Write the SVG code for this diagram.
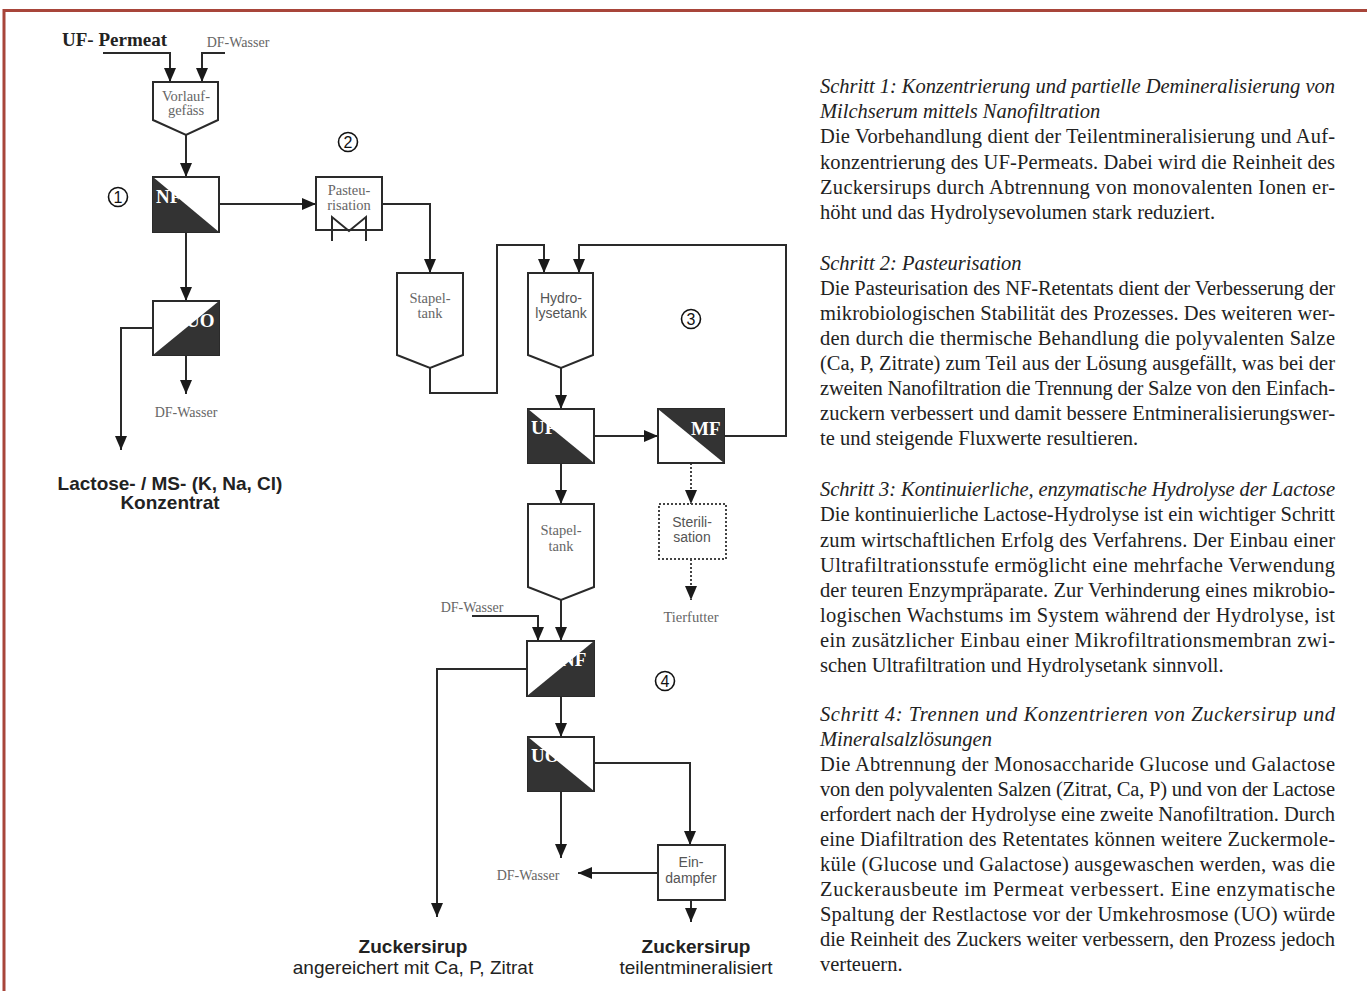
<svg xmlns="http://www.w3.org/2000/svg" width="1367" height="991" viewBox="0 0 1367 991">
<defs>
<marker id="ah" markerWidth="14" markerHeight="12" refX="14" refY="6" orient="auto" markerUnits="userSpaceOnUse"><path d="M0,0 L14,6 L0,12 z" fill="#1a1a1a"/></marker>
<style>
.ln{fill:none;stroke:#2a2a2a;stroke-width:2}
.dot{fill:none;stroke:#444;stroke-width:2;stroke-dasharray:2,2}
.box{fill:#fff;stroke:#2a2a2a;stroke-width:2}
.dk{fill:#333}
.mt{font-family:"Liberation Serif",serif;font-weight:bold;font-size:19px;fill:#fff}
.sl{font-family:"Liberation Serif",serif;font-size:14.5px;fill:#666;text-anchor:middle}
.ss{font-family:"Liberation Sans",Arial,sans-serif;font-size:14px;fill:#555;text-anchor:middle}
.big{font-family:"Liberation Sans",Arial,sans-serif;font-weight:bold;font-size:19px;fill:#222;text-anchor:middle}
.sub{font-family:"Liberation Sans",Arial,sans-serif;font-size:19px;fill:#222;text-anchor:middle}
.num{font-family:"Liberation Sans",Arial,sans-serif;font-size:16px;fill:#111;text-anchor:middle}
.cir{fill:#fff;stroke:#111;stroke-width:1.6}
.tx{font-family:"Liberation Serif",serif;font-size:20.5px;fill:#222}
.ti{font-family:"Liberation Serif",serif;font-size:20.5px;font-style:italic;fill:#222}
</style>
</defs>
<rect x="4" y="10.5" width="1400" height="1000" fill="none" stroke="#a8453a" stroke-width="3"/>

<g id="connectors">
<path class="ln" d="M103,53 H170 V82" marker-end="url(#ah)"/>
<path class="ln" d="M225,53 H202 V82" marker-end="url(#ah)"/>
<path class="ln" d="M186,135 V177" marker-end="url(#ah)"/>
<path class="ln" d="M219,204 H316" marker-end="url(#ah)"/>
<path class="ln" d="M382,204 H430 V273" marker-end="url(#ah)"/>
<path class="ln" d="M430,368 V393 H497 V245 H544 V273" marker-end="url(#ah)"/>
<path class="ln" d="M724,436 H786 V245 H579 V273" marker-end="url(#ah)"/>
<path class="ln" d="M561,368 V409" marker-end="url(#ah)"/>
<path class="ln" d="M594,436 H658" marker-end="url(#ah)"/>
<path class="dot" d="M691,463 V504" marker-end="url(#ah)"/>
<path class="dot" d="M691,559 V600" marker-end="url(#ah)"/>
<path class="ln" d="M561,463 V504" marker-end="url(#ah)"/>
<path class="ln" d="M561,600 V641" marker-end="url(#ah)"/>
<path class="ln" d="M472,616 H538 V641" marker-end="url(#ah)"/>
<path class="ln" d="M527,669 H437 V917" marker-end="url(#ah)"/>
<path class="ln" d="M561,696 V737" marker-end="url(#ah)"/>
<path class="ln" d="M594,763 H690 V845" marker-end="url(#ah)"/>
<path class="ln" d="M561,791 V858" marker-end="url(#ah)"/>
<path class="ln" d="M658,873 H578" marker-end="url(#ah)"/>
<path class="ln" d="M691,900 V922" marker-end="url(#ah)"/>
<path class="ln" d="M186,232 V301" marker-end="url(#ah)"/>
<path class="ln" d="M153,328 H121 V450" marker-end="url(#ah)"/>
<path class="ln" d="M186,355 V394" marker-end="url(#ah)"/>
</g>

<g id="inputs">
<text x="62" y="46" style="font-family:'Liberation Serif',serif;font-weight:bold;font-size:19px;fill:#222">UF- Permeat</text>
<text x="238" y="47" class="sl" style="font-size:14px">DF-Wasser</text>
</g>

<g id="vorlauf">
<path class="box" d="M153,82 H218 V120 L186,135 L153,120 z"/>
<text x="186" y="101" class="sl">Vorlauf-</text>
<text x="186" y="115" class="sl">gefäss</text>
</g>

<g id="step1">
<circle class="cir" cx="118" cy="197" r="9.5"/>
<text x="118" y="203" class="num">1</text>
</g>

<g id="nf1">
<rect class="box" x="153" y="177" width="66" height="55"/>
<path class="dk" d="M153,177 L219,232 H153 z"/>
<text x="156" y="203" class="mt">NF</text>
</g>

<g id="uo1">
<rect class="box" x="153" y="301" width="66" height="54"/>
<path class="dk" d="M219,301 V355 H153 z"/>
<text x="186" y="327" class="mt">UO</text>
<text x="186" y="417" class="sl" style="font-size:14px">DF-Wasser</text>
</g>

<g id="lactose">
<text x="170" y="490" class="big">Lactose- / MS- (K, Na, Cl)</text>
<text x="170" y="509" class="big">Konzentrat</text>
</g>

<g id="step2">
<circle class="cir" cx="348" cy="142" r="9.5"/>
<text x="348" y="148" class="num">2</text>
</g>

<g id="pasteurisation">
<rect class="box" x="316" y="177" width="66" height="53"/>
<text x="349" y="195" class="sl">Pasteu-</text>
<text x="349" y="210" class="sl">risation</text>
<path class="ln" d="M332,241 V217 L349,231 L366,217 V241"/>
</g>

<g id="stapeltank1">
<path class="box" d="M397,273 H463 V355 L430,368 L397,355 z"/>
<text x="430" y="303" class="sl">Stapel-</text>
<text x="430" y="318" class="sl">tank</text>
</g>

<g id="hydrolysetank">
<path class="box" d="M528,273 H593 V355 L561,368 L528,355 z"/>
<text x="561" y="303" class="ss">Hydro-</text>
<text x="561" y="318" class="ss">lysetank</text>
</g>

<g id="step3">
<circle class="cir" cx="691" cy="319" r="9.5"/>
<text x="691" y="325" class="num">3</text>
</g>

<g id="uf">
<rect class="box" x="528" y="409" width="66" height="54"/>
<path class="dk" d="M528,409 L594,463 H528 z"/>
<text x="531" y="434" class="mt">UF</text>
</g>

<g id="mf">
<rect class="box" x="658" y="409" width="66" height="54"/>
<path class="dk" d="M658,409 H724 V463 z"/>
<text x="691" y="435" class="mt">MF</text>
</g>

<g id="sterilisation">
<rect x="659" y="504" width="67" height="55" fill="#fff" stroke="#444" stroke-width="2" stroke-dasharray="2,2"/>
<text x="692" y="527" class="ss">Sterili-</text>
<text x="692" y="542" class="ss">sation</text>
<text x="691" y="622" class="sl">Tierfutter</text>
</g>

<g id="stapeltank2">
<path class="box" d="M528,504 H594 V587 L561,600 L528,587 z"/>
<text x="561" y="535" class="sl">Stapel-</text>
<text x="561" y="551" class="sl">tank</text>
</g>

<g id="nf2">
<text x="472" y="612" class="sl" style="font-size:14px">DF-Wasser</text>
<rect class="box" x="527" y="641" width="67" height="55"/>
<path class="dk" d="M594,641 V696 H527 z"/>
<text x="561" y="666" class="mt">NF</text>
</g>

<g id="step4">
<circle class="cir" cx="665" cy="681" r="9.5"/>
<text x="665" y="687" class="num">4</text>
</g>

<g id="uo2">
<rect class="box" x="528" y="737" width="66" height="54"/>
<path class="dk" d="M528,737 L594,791 H528 z"/>
<text x="531" y="762" class="mt">UO</text>
<text x="528" y="880" class="sl" style="font-size:14px">DF-Wasser</text>
</g>

<g id="eindampfer">
<rect class="box" x="658" y="845" width="67" height="55"/>
<text x="691" y="867" class="ss">Ein-</text>
<text x="691" y="883" class="ss">dampfer</text>
</g>

<g id="outputs">
<text x="413" y="953" class="big">Zuckersirup</text>
<text x="413" y="974" class="sub">angereichert mit Ca, P, Zitrat</text>
<text x="696" y="953" class="big">Zuckersirup</text>
<text x="696" y="974" class="sub">teilentmineralisiert</text>
</g>

<g id="description">
<text x="820" y="93" class="ti" textLength="515" lengthAdjust="spacing">Schritt 1: Konzentrierung und partielle Demineralisierung von</text>
<text x="820" y="118" class="ti">Milchserum mittels Nanofiltration</text>
<text x="820" y="143" class="tx" textLength="515" lengthAdjust="spacing">Die Vorbehandlung dient der Teilentmineralisierung und Auf-</text>
<text x="820" y="169" class="tx" textLength="515" lengthAdjust="spacing">konzentrierung des UF-Permeats. Dabei wird die Reinheit des</text>
<text x="820" y="194" class="tx" textLength="515" lengthAdjust="spacing">Zuckersirups durch Abtrennung von monovalenten Ionen er-</text>
<text x="820" y="219" class="tx">höht und das Hydrolysevolumen stark reduziert.</text>

<text x="820" y="270" class="ti">Schritt 2: Pasteurisation</text>
<text x="820" y="295" class="tx" textLength="515" lengthAdjust="spacing">Die Pasteurisation des NF-Retentats dient der Verbesserung der</text>
<text x="820" y="320" class="tx" textLength="515" lengthAdjust="spacing">mikrobiologischen Stabilität des Prozesses. Des weiteren wer-</text>
<text x="820" y="345" class="tx" textLength="515" lengthAdjust="spacing">den durch die thermische Behandlung die polyvalenten Salze</text>
<text x="820" y="370" class="tx" textLength="515" lengthAdjust="spacing">(Ca, P, Zitrate) zum Teil aus der Lösung ausgefällt, was bei der</text>
<text x="820" y="395" class="tx" textLength="515" lengthAdjust="spacing">zweiten Nanofiltration die Trennung der Salze von den Einfach-</text>
<text x="820" y="420" class="tx" textLength="515" lengthAdjust="spacing">zuckern verbessert und damit bessere Entmineralisierungswer-</text>
<text x="820" y="445" class="tx">te und steigende Fluxwerte resultieren.</text>

<text x="820" y="496" class="ti" textLength="515" lengthAdjust="spacing">Schritt 3: Kontinuierliche, enzymatische Hydrolyse der Lactose</text>
<text x="820" y="521" class="tx" textLength="515" lengthAdjust="spacing">Die kontinuierliche Lactose-Hydrolyse ist ein wichtiger Schritt</text>
<text x="820" y="547" class="tx" textLength="515" lengthAdjust="spacing">zum wirtschaftlichen Erfolg des Verfahrens. Der Einbau einer</text>
<text x="820" y="572" class="tx" textLength="515" lengthAdjust="spacing">Ultrafiltrationsstufe ermöglicht eine mehrfache Verwendung</text>
<text x="820" y="597" class="tx" textLength="515" lengthAdjust="spacing">der teuren Enzympräparate. Zur Verhinderung eines mikrobio-</text>
<text x="820" y="622" class="tx" textLength="515" lengthAdjust="spacing">logischen Wachstums im System während der Hydrolyse, ist</text>
<text x="820" y="647" class="tx" textLength="515" lengthAdjust="spacing">ein zusätzlicher Einbau einer Mikrofiltrationsmembran zwi-</text>
<text x="820" y="672" class="tx">schen Ultrafiltration und Hydrolysetank sinnvoll.</text>

<text x="820" y="721" class="ti" textLength="515" lengthAdjust="spacing">Schritt 4: Trennen und Konzentrieren von Zuckersirup und</text>
<text x="820" y="746" class="ti">Mineralsalzlösungen</text>
<text x="820" y="771" class="tx" textLength="515" lengthAdjust="spacing">Die Abtrennung der Monosaccharide Glucose und Galactose</text>
<text x="820" y="796" class="tx" textLength="515" lengthAdjust="spacing">von den polyvalenten Salzen (Zitrat, Ca, P) und von der Lactose</text>
<text x="820" y="821" class="tx" textLength="515" lengthAdjust="spacing">erfordert nach der Hydrolyse eine zweite Nanofiltration. Durch</text>
<text x="820" y="846" class="tx" textLength="515" lengthAdjust="spacing">eine Diafiltration des Retentates können weitere Zuckermole-</text>
<text x="820" y="871" class="tx" textLength="515" lengthAdjust="spacing">küle (Glucose und Galactose) ausgewaschen werden, was die</text>
<text x="820" y="896" class="tx" textLength="515" lengthAdjust="spacing">Zuckerausbeute im Permeat verbessert. Eine enzymatische</text>
<text x="820" y="921" class="tx" textLength="515" lengthAdjust="spacing">Spaltung der Restlactose vor der Umkehrosmose (UO) würde</text>
<text x="820" y="946" class="tx" textLength="515" lengthAdjust="spacing">die Reinheit des Zuckers weiter verbessern, den Prozess jedoch</text>
<text x="820" y="971" class="tx">verteuern.</text>
</g>
</svg>
